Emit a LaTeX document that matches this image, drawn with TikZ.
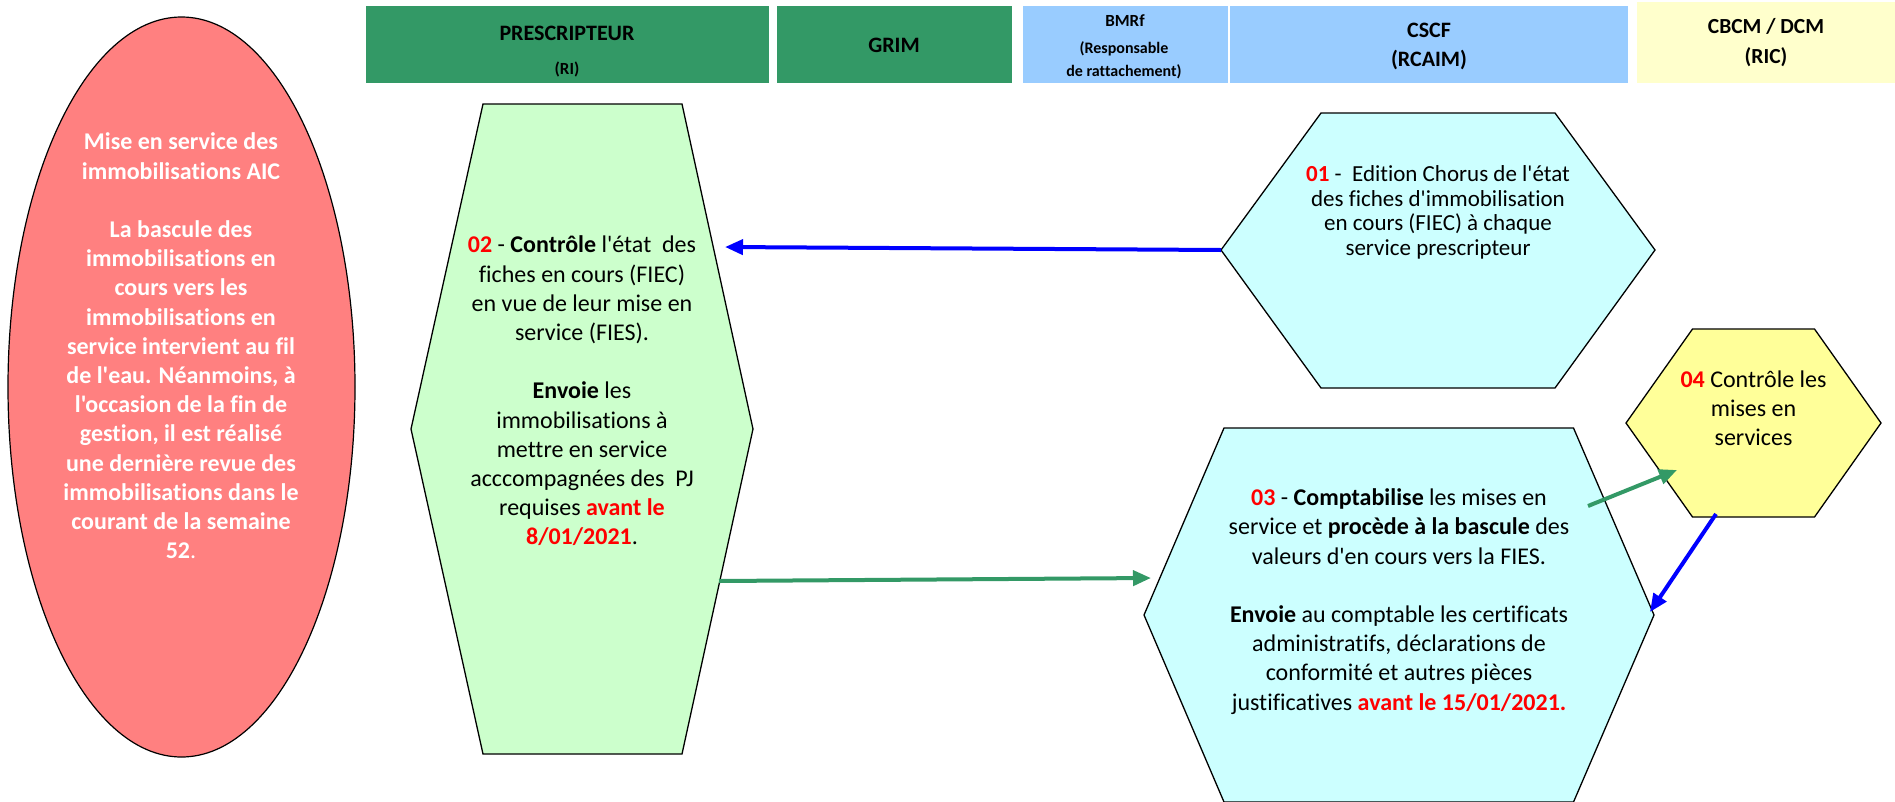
\documentclass[tikz,border=0pt]{standalone}
\usepackage{fontspec}
\setmainfont{Carlito}[Ligatures={TeXOff,NoCommon}]
\usetikzlibrary{arrows.meta}

\definecolor{hdrgreen}{HTML}{339966}
\definecolor{hdrblue}{HTML}{99CCFF}
\definecolor{hdryellow}{HTML}{FFFFCC}
\definecolor{stepgreen}{HTML}{CCFFCC}
\definecolor{stepcyan}{HTML}{CCFFFF}
\definecolor{stepyellow}{HTML}{FFFF99}
\definecolor{notered}{HTML}{FF8080}
\definecolor{numred}{HTML}{FF0000}
\definecolor{flowblue}{HTML}{0000FF}

\newcommand{\num}[1]{\textbf{\textcolor{numred}{#1}}}

\tikzset{
  hdrbox/.style={draw=none, inner sep=0pt, anchor=north west},
  hdrtext/.style={anchor=base, inner sep=0pt, font=\bfseries\fontsize{#1}{#1}\selectfont},
  hexline/.style={draw=black, line width=1.3pt, line join=miter},
  steptext/.style={align=center, inner sep=0pt, font=\fontsize{24}{29.2}\selectfont},
  flowarrow/.style={line width=4pt, -{Triangle[length=18pt,width=15pt]}},
}

\begin{document}
\begin{tikzpicture}[x=1pt,y=-1pt]
\useasboundingbox (0,0) rectangle (1895,801);

% ---- column headers ----
\node[hdrbox, fill=hdrgreen,  minimum width=403pt, minimum height=77pt] (colpres) at (366,6) {};
\node[hdrbox, fill=hdrgreen,  minimum width=235pt, minimum height=77pt] (colgrim) at (777,6) {};
\node[hdrbox, fill=hdrblue,   minimum width=205pt, minimum height=77pt] (colbmrf) at (1023,6) {};
\node[hdrbox, fill=hdrblue,   minimum width=398pt, minimum height=77pt] (colcscf) at (1230,6) {};
\node[hdrbox, fill=hdryellow, minimum width=258pt, minimum height=81pt] (colcbcm) at (1637,2) {};

\node[hdrtext=22] (tpres) at (567,40.7) {PRESCRIPTEUR};
\node[hdrtext=17] (tri)   at (567,74) {(RI)};
\node[hdrtext=22] (tgrim) at (894,52.3) {GRIM};
\node[hdrtext=17] (tbmrf) at (1125,26.7) {BMRf};
\node[hdrtext=16] (tresp) at (1124,53) {(Responsable};
\node[hdrtext=16] (trat)  at (1124,76.7) {de rattachement)};
\node[hdrtext=22] (tcscf) at (1429,37.3) {CSCF};
\node[hdrtext=22] (trcaim) at (1429,66.7) {(RCAIM)};
\node[hdrtext=21.5] (tcbcm) at (1766,33.3) {CBCM / DCM};
\node[hdrtext=21.5] (tric)  at (1766,63.3) {(RIC)};

% ---- summary ellipse ----
\draw[fill=notered, draw=black, line width=1.2pt] (181.5,387) ellipse [x radius=173.5, y radius=370];
\node[align=center, inner sep=0pt, text=white,
      font=\bfseries\fontsize{24}{29.2}\selectfont] (note) at (181,346) {%
Mise en service des\\
immobilisations AIC\\[29.2pt]
La bascule des\\
immobilisations en\\
cours vers les\\
immobilisations en\\
service intervient au fil\\
de l'eau. Néanmoins, à\\
l'occasion de la fin de\\
gestion, il est réalisé\\
une dernière revue des\\
immobilisations dans le\\
courant de la semaine\\
52{\mdseries .}};

% ---- step 02 (prescripteur) ----
\coordinate (a1) at (483,104);  \coordinate (a2) at (682,104);
\coordinate (a3) at (753,429);  \coordinate (a4) at (682,754);
\coordinate (a5) at (483,754);  \coordinate (a6) at (411,429);
\draw[hexline, fill=stepgreen] (a1) -- (a2) -- (a3) -- (a4) -- (a5) -- (a6) -- cycle;
\node[steptext] (s02) at (582,391) {%
\num{02} - \textbf{Contrôle} l'état\ \ des\\
fiches en cours (FIEC)\\
en vue de leur mise en\\
service (FIES).\\[29.2pt]
\textbf{Envoie} les\\
immobilisations à\\
mettre en service\\
acccompagnées des\ \ PJ\\
requises \num{avant le}\\
\num{8/01/2021}.};

% ---- step 01 (CSCF) ----
\coordinate (b1) at (1321,113); \coordinate (b2) at (1555,113);
\coordinate (b3) at (1655,250); \coordinate (b4) at (1555,388);
\coordinate (b5) at (1321,388); \coordinate (b6) at (1221,250);
\draw[hexline, fill=stepcyan] (b1) -- (b2) -- (b3) -- (b4) -- (b5) -- (b6) -- cycle;
\node[steptext, font=\fontsize{23}{24.7}\selectfont] (s01) at (1438,212.5) {%
\num{01} -\ \ Edition Chorus de l'état\\
des fiches d'immobilisation\\
en cours (FIEC) à chaque\\
service prescripteur};

% ---- step 03 (CSCF) ----
\coordinate (c1) at (1224,428);  \coordinate (c2) at (1573.5,428);
\coordinate (c3) at (1654,615);  \coordinate (c4) at (1573.5,802);
\coordinate (c5) at (1224,802);  \coordinate (c6) at (1144,615);
\draw[hexline, fill=stepcyan] (c1) -- (c2) -- (c3) -- (c4) -- (c5) -- (c6) -- cycle;
\node[steptext] (s03) at (1399,601.5) {%
\num{03} - \textbf{Comptabilise} les mises en\\
service et \textbf{procède à la bascule} des\\
valeurs d'en cours vers la FIES.\\[29.2pt]
\textbf{Envoie} au comptable les certificats\\
administratifs, déclarations de\\
conformité et autres pièces\\
justificatives \num{avant le 15/01/2021.}};

% ---- step 04 (CBCM / DCM) ----
\coordinate (d1) at (1692.5,329); \coordinate (d2) at (1814.5,329);
\coordinate (d3) at (1881,423);   \coordinate (d4) at (1814.5,517);
\coordinate (d5) at (1692.5,517); \coordinate (d6) at (1626,423);
\draw[hexline, fill=stepyellow] (d1) -- (d2) -- (d3) -- (d4) -- (d5) -- (d6) -- cycle;
\node[steptext] (s04) at (1753.5,408) {%
\num{04} Contrôle les\\
mises en\\
services};

% ---- flows between steps ----
\coordinate (f02in)  at (725,247);
\coordinate (f02out) at (719,581);
\coordinate (f03in)  at (1151,578);
\coordinate (f03out) at (1588,506);
\coordinate (f04in)  at (1677,470);
\coordinate (f04out) at (1716,514);
\coordinate (f03back) at (1650,612);

\draw[flowarrow, flowblue] (b6) -- (f02in);
\draw[flowarrow, hdrgreen] (f02out) -- (f03in);
\draw[flowarrow, hdrgreen] (f03out) -- (f04in);
\draw[flowarrow, flowblue] (f04out) -- (f03back);
\end{tikzpicture}
\end{document}
